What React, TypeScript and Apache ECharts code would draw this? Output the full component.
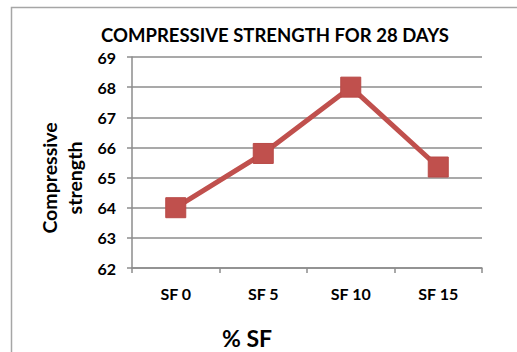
import React, { useEffect, useRef } from "react";
import * as echarts from "echarts";

const categories = ["SF 0", "SF 5", "SF 10", "SF 15"];
const strength = [64.0, 65.8, 68.0, 65.35];
const titleText = "COMPRESSIVE STRENGTH FOR 28 DAYS";
const yName = "Compressive\nstrength";
const xName = "% SF";

const FONT = "Lato, 'Open Sans', sans-serif";

export default function App() {
  const ref = useRef<HTMLDivElement>(null);
  useEffect(() => {
    if (!ref.current) return;
    const chart = echarts.init(ref.current, null, { renderer: "svg" });
    chart.setOption({
      animation: false,
      backgroundColor: "#ffffff",
      graphic: [
        {
          type: "rect",
          shape: { x: 11.5, y: 7.5, width: 520, height: 360 },
          style: { fill: "none", stroke: "#a6a6a6", lineWidth: 1.5 },
          silent: true,
        },
        {
          type: "text",
          x: 247,
          y: 338,
          style: {
            text: xName,
            fontFamily: FONT,
            fontWeight: "bold",
            fontSize: 23,
            fill: "#000",
            align: "center",
            verticalAlign: "middle",
          },
          silent: true,
        },
        {
          type: "text",
          x: 62,
          y: 178,
          rotation: Math.PI / 2,
          style: {
            text: yName,
            fontFamily: FONT,
            fontWeight: "bold",
            fontSize: 19.5,
            lineHeight: 25,
            fill: "#000",
            align: "center",
            verticalAlign: "middle",
          },
          silent: true,
        },
      ],
      title: {
        text: titleText,
        left: 270,
        top: 20,
        textAlign: "center",
        textStyle: { fontFamily: FONT, fontWeight: "bold", fontSize: 18.5, color: "#000" },
      },
      grid: { left: 132, right: 35, top: 57, bottom: 84 },
      xAxis: {
        type: "category",
        data: categories,
        boundaryGap: true,
        axisLine: { lineStyle: { color: "#8c8c8c", width: 1.5 } },
        axisTick: { show: true, length: 5, alignWithLabel: false, lineStyle: { color: "#8c8c8c", width: 1.5 } },
        axisLabel: { fontFamily: FONT, fontWeight: "bold", fontSize: 16, color: "#000", margin: 17 },
      },
      yAxis: {
        type: "value",
        min: 62,
        max: 69,
        interval: 1,
        axisLine: { show: true, lineStyle: { color: "#8c8c8c", width: 1.5 } },
        axisTick: { show: true, length: 5, lineStyle: { color: "#8c8c8c", width: 1.5 } },
        axisLabel: { fontFamily: FONT, fontWeight: "bold", fontSize: 16, color: "#000", margin: 16 },
        splitLine: { show: true, lineStyle: { color: "#8c8c8c", width: 1.5 } },
      },
      series: [
        {
          type: "line",
          data: strength,
          symbol: "rect",
          symbolSize: 20,
          lineStyle: { color: "#c0504d", width: 5 },
          itemStyle: { color: "#c0504d", borderColor: "#b84a47", borderWidth: 1 },
          z: 5,
        },
      ],
    });
    return () => chart.dispose();
  }, []);
  return <div ref={ref} style={{ width: 517, height: 352, position: "absolute", left: 0, top: 0 }} />;
}
